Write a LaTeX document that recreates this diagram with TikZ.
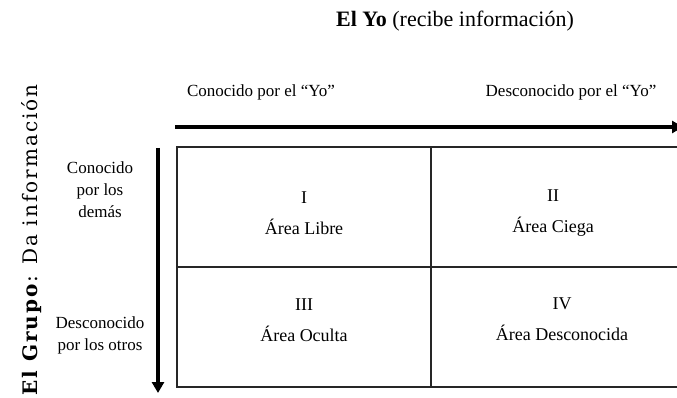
\documentclass[tikz,border=0pt]{standalone}
\usepackage{fontspec}
\setmainfont{Liberation Serif}
\newfontfamily\grupofont[LetterSpace=10]{DejaVu Serif}
\usetikzlibrary{arrows.meta}

\begin{document}
\begin{tikzpicture}[x=1pt,y=-1pt,
    cell/.style={draw=black!85,line width=1.1pt,minimum width=254pt,minimum height=120pt,inner sep=0pt},
    txt/.style={align=center,font=\fontsize{18}{31}\selectfont},
    lbl/.style={align=center,font=\fontsize{17}{22}\selectfont},
    flecha/.style={line width=3.5pt,-{Triangle[length=11pt,width=12pt]}}]
  \useasboundingbox (0,0) rectangle (677,398);
              \node[font=\fontsize{22}{24}\selectfont] (yo) at (455,21) {\textbf{El Yo} (recibe información)};
              \node[lbl] (conyo) at (261,92) {Conocido por el “Yo”};
              \node[lbl] (desyo) at (571,92) {Desconocido por el “Yo”};
              \node[font=\grupofont\fontsize{20}{24}\selectfont,rotate=90] (grupo) at (32,240) {\textbf{El Grupo}: Da información};
              \node[lbl] (condem) at (100,190) {Conocido\\por los\\demás};
              \node[lbl] (desotr) at (100,335) {Desconocido\\por los otros};
              \node[cell] (libre) at (304,207) {};
              \node[cell] (ciega) at (558,207) {};
              \node[cell] (oculta) at (304,327) {};
              \node[cell] (desc) at (558,327) {};
              \node[txt] (tlibre) at ([yshift=-6pt]libre) {I\\Área Libre};
              \node[txt] (tciega) at ([xshift=-5pt,yshift=-6pt]ciega) {II\\Área Ciega};
              \node[txt] (toculta) at ([yshift=7pt]oculta) {III\\Área Oculta};
              \node[txt] (tdesc) at ([xshift=4pt,yshift=8pt]desc) {IV\\Área Desconocida};
              \coordinate (hs) at (175,127);
              \coordinate (he) at (683,127);
              \coordinate (vs) at (158,148);
              \coordinate (ve) at (158,393);
              \draw[flecha] (hs) -- (he);
              \draw[flecha] (vs) -- (ve);
        \end{tikzpicture}
\end{document}
